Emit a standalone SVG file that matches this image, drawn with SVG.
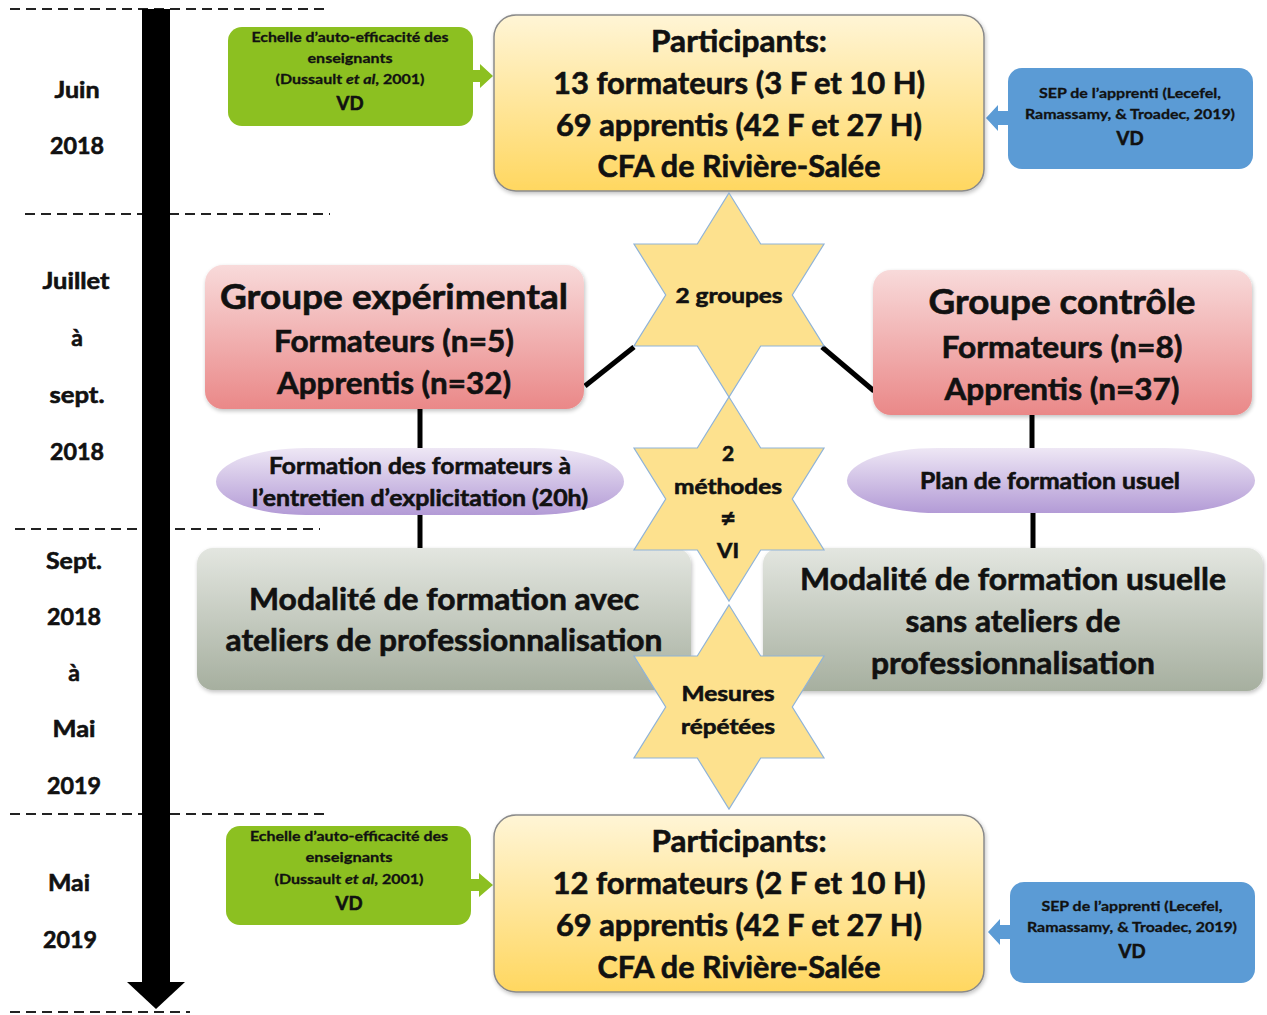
<svg xmlns="http://www.w3.org/2000/svg" width="1267" height="1015" viewBox="0 0 1267 1015">
  <defs>
    <linearGradient id="gYellow" x1="0" y1="0" x2="0" y2="1">
      <stop offset="0" stop-color="#fff5d6"/>
      <stop offset="1" stop-color="#ffd760"/>
    </linearGradient>
    <linearGradient id="gRed" x1="0" y1="0" x2="0" y2="1">
      <stop offset="0" stop-color="#f8dada"/>
      <stop offset="1" stop-color="#ea8888"/>
    </linearGradient>
    <linearGradient id="gGrey" x1="0" y1="0" x2="0" y2="1">
      <stop offset="0" stop-color="#e3e6e0"/>
      <stop offset="1" stop-color="#a6af9f"/>
    </linearGradient>
    <linearGradient id="gPurple" x1="0" y1="0" x2="0" y2="1">
      <stop offset="0" stop-color="#eee7f5"/>
      <stop offset="1" stop-color="#b39bd6"/>
    </linearGradient>
    <!-- six-pointed star, centred on the origin -->
    <path id="hexagram" d="M0,-102 L31.7,-51 L95,-51 L63.3,0 L95,51 L31.7,51 L0,102 L-31.7,51 L-95,51 L-63.3,0 L-95,-51 L-31.7,-51 Z"/>
    <filter id="soft" x="-5%" y="-5%" width="110%" height="115%">
      <feGaussianBlur in="SourceAlpha" stdDeviation="2"/>
      <feOffset dx="1" dy="2"/>
      <feComponentTransfer><feFuncA type="linear" slope="0.25"/></feComponentTransfer>
      <feMerge><feMergeNode/><feMergeNode in="SourceGraphic"/></feMerge>
    </filter>
  </defs>
  <style>
    text { font-family: Lato, "Open Sans", "Liberation Sans", sans-serif; font-weight: bold; fill: #111; stroke: #111; stroke-width: 0.6; text-anchor: middle; }
    .dash { stroke: #222; stroke-width: 2; stroke-dasharray: 10 6; fill: none; }
    .link { stroke: #000; stroke-width: 5; fill: none; }
    .green { fill: #8cc021; }
    .blue { fill: #5b9bd5; }
    .yellow { fill: url(#gYellow); stroke: #8a8a8a; stroke-width: 1.5; }
    .red { fill: url(#gRed); }
    .grey { fill: url(#gGrey); }
    .purple { fill: url(#gPurple); }
    .star { fill: #fde18e; stroke: #8fb3d8; stroke-width: 1.2; }
    .t14 { font-size: 14px; stroke-width: 0.3; }
    .t19 { font-size: 19px; }
    .t23 { font-size: 23px; }
    .t22 { font-size: 21px; }
    .t26 { font-size: 27px; }
    .t30 { font-size: 30px; }
    .t36 { font-size: 35px; }
  </style>

  <rect width="1267" height="1015" fill="#fff"/>

  <!-- timeline -->
  <g id="timeline">
    <line class="dash" x1="10" y1="9" x2="330" y2="9"/>
    <line class="dash" x1="25" y1="214" x2="330" y2="214"/>
    <line class="dash" x1="15" y1="529" x2="320" y2="529"/>
    <line class="dash" x1="10" y1="814" x2="325" y2="814"/>
    <line class="dash" x1="10" y1="1012" x2="190" y2="1012"/>
    <rect x="142" y="9" width="28" height="976" fill="#000"/>
    <polygon points="127,982 185,982 156,1009" fill="#000"/>
    <text class="t23" x="77" y="98" textLength="45" lengthAdjust="spacingAndGlyphs">Juin</text>
    <text class="t23" x="77" y="154" textLength="54" lengthAdjust="spacingAndGlyphs">2018</text>
    <text class="t23" x="76" y="289" textLength="67" lengthAdjust="spacingAndGlyphs">Juillet</text>
    <text class="t23" x="77" y="346">à</text>
    <text class="t23" x="77" y="403" textLength="55" lengthAdjust="spacingAndGlyphs">sept.</text>
    <text class="t23" x="77" y="460" textLength="54" lengthAdjust="spacingAndGlyphs">2018</text>
    <text class="t23" x="74" y="569" textLength="56" lengthAdjust="spacingAndGlyphs">Sept.</text>
    <text class="t23" x="74" y="625" textLength="54" lengthAdjust="spacingAndGlyphs">2018</text>
    <text class="t23" x="74" y="681">à</text>
    <text class="t23" x="74" y="737" textLength="43" lengthAdjust="spacingAndGlyphs">Mai</text>
    <text class="t23" x="74" y="794" textLength="54" lengthAdjust="spacingAndGlyphs">2019</text>
    <text class="t23" x="69" y="891" textLength="42" lengthAdjust="spacingAndGlyphs">Mai</text>
    <text class="t23" x="70" y="948" textLength="54" lengthAdjust="spacingAndGlyphs">2019</text>
  </g>

  <!-- connectors -->
  <g id="connectors">
    <line class="link" x1="585" y1="386" x2="634" y2="347"/>
    <line class="link" x1="822" y1="347" x2="874" y2="391"/>
    <line class="link" x1="420" y1="408" x2="420" y2="449"/>
    <line class="link" x1="420" y1="514" x2="420" y2="549"/>
    <line class="link" x1="1032" y1="414" x2="1032" y2="449"/>
    <line class="link" x1="1033" y1="512" x2="1033" y2="549"/>
    <!-- measurement arrows into the participant boxes -->
    <polygon class="green" points="472,70 480,70 480,64 493,76 480,88 480,82 472,82"/>
    <polygon class="blue" points="1009,111 998,111 998,105 986,118 998,131 998,125 1009,125"/>
    <polygon class="green" points="471,879 479,879 479,873 493,885 479,897 479,891 471,891"/>
    <polygon class="blue" points="1011,925 1000,925 1000,919 988,932 1000,945 1000,939 1011,939"/>
  </g>

  <!-- June 2018 -->
  <g id="scale-teachers-pre">
    <rect class="green" x="228" y="27" width="245" height="99" rx="14"/>
    <text class="t14" x="350" y="42" textLength="197" lengthAdjust="spacingAndGlyphs">Echelle d’auto-efficacité des</text>
    <text class="t14" x="350" y="63" textLength="85" lengthAdjust="spacingAndGlyphs">enseignants</text>
    <text class="t14" x="350" y="84" textLength="149" lengthAdjust="spacingAndGlyphs">(Dussault <tspan font-style="italic">et al</tspan>, 2001)</text>
    <text class="t19" x="350" y="110" textLength="27" lengthAdjust="spacingAndGlyphs">VD</text>
  </g>
  <g id="participants-pre">
    <rect class="yellow" x="494" y="15" width="490" height="176" rx="22" filter="url(#soft)"/>
    <text class="t30" x="739" y="52" textLength="176" lengthAdjust="spacingAndGlyphs">Participants:</text>
    <text class="t30" x="739" y="94" textLength="372" lengthAdjust="spacingAndGlyphs">13 formateurs (3 F et 10 H)</text>
    <text class="t30" x="739" y="136" textLength="366" lengthAdjust="spacingAndGlyphs">69 apprentis (42 F et 27 H)</text>
    <text class="t30" x="739" y="177" textLength="283" lengthAdjust="spacingAndGlyphs">CFA de Rivière-Salée</text>
  </g>
  <g id="scale-apprentices-pre">
    <rect class="blue" x="1008" y="68" width="245" height="101" rx="14"/>
    <text class="t14" x="1130" y="98" textLength="182" lengthAdjust="spacingAndGlyphs">SEP de l’apprenti (Lecefel,</text>
    <text class="t14" x="1130" y="119" textLength="210" lengthAdjust="spacingAndGlyphs">Ramassamy, &amp; Troadec, 2019)</text>
    <text class="t19" x="1130" y="145" textLength="27" lengthAdjust="spacingAndGlyphs">VD</text>
  </g>

  <!-- groups -->
  <g id="group-experimental">
    <rect class="red" x="205" y="265" width="379" height="144" rx="18" filter="url(#soft)"/>
    <text class="t36" x="394" y="309" textLength="348" lengthAdjust="spacingAndGlyphs">Groupe expérimental</text>
    <text class="t30" x="394" y="352" textLength="240" lengthAdjust="spacingAndGlyphs">Formateurs (n=5)</text>
    <text class="t30" x="394" y="394" textLength="234" lengthAdjust="spacingAndGlyphs">Apprentis (n=32)</text>
  </g>
  <g id="group-control">
    <rect class="red" x="873" y="270" width="379" height="145" rx="18" filter="url(#soft)"/>
    <text class="t36" x="1062" y="314" textLength="267" lengthAdjust="spacingAndGlyphs">Groupe contrôle</text>
    <text class="t30" x="1062" y="358" textLength="241" lengthAdjust="spacingAndGlyphs">Formateurs (n=8)</text>
    <text class="t30" x="1062" y="400" textLength="235" lengthAdjust="spacingAndGlyphs">Apprentis (n=37)</text>
  </g>

  <!-- trainer preparation -->
  <g id="training-experimental">
    <rect class="purple" x="216" y="448" width="408" height="67" rx="90" ry="33.5"/>
    <text class="t23" x="420" y="474" textLength="302" lengthAdjust="spacingAndGlyphs">Formation des formateurs à</text>
    <text class="t23" x="420" y="506" textLength="336" lengthAdjust="spacingAndGlyphs">l’entretien d’explicitation (20h)</text>
  </g>
  <g id="training-control">
    <rect class="purple" x="847" y="448" width="408" height="65" rx="90" ry="32.5"/>
    <text class="t23" x="1050" y="489" textLength="260" lengthAdjust="spacingAndGlyphs">Plan de formation usuel</text>
  </g>

  <!-- training modalities -->
  <g id="modality-experimental">
    <rect class="grey" x="197" y="548" width="494" height="142" rx="16" filter="url(#soft)"/>
    <text class="t30" x="444" y="610" textLength="390" lengthAdjust="spacingAndGlyphs">Modalité de formation avec</text>
    <text class="t30" x="444" y="651" textLength="437" lengthAdjust="spacingAndGlyphs">ateliers de professionnalisation</text>
  </g>
  <g id="modality-control">
    <rect class="grey" x="763" y="548" width="500" height="143" rx="16" filter="url(#soft)"/>
    <text class="t30" x="1013" y="590" textLength="426" lengthAdjust="spacingAndGlyphs">Modalité de formation usuelle</text>
    <text class="t30" x="1013" y="632" textLength="215" lengthAdjust="spacingAndGlyphs">sans ateliers de</text>
    <text class="t30" x="1013" y="674" textLength="284" lengthAdjust="spacingAndGlyphs">professionnalisation</text>
  </g>

  <!-- design stars -->
  <g id="star-groups">
    <use href="#hexagram" class="star" transform="translate(729,295)"/>
    <text class="t22" x="729" y="303" textLength="107" lengthAdjust="spacingAndGlyphs">2 groupes</text>
  </g>
  <g id="star-methods">
    <use href="#hexagram" class="star" transform="translate(729,499)"/>
    <text class="t22" x="728" y="461">2</text>
    <text class="t22" x="728" y="494" textLength="108" lengthAdjust="spacingAndGlyphs">méthodes</text>
    <text class="t26" x="728" y="527">≠</text>
    <text class="t22" x="728" y="558" textLength="22" lengthAdjust="spacingAndGlyphs">VI</text>
  </g>
  <g id="star-measures">
    <use href="#hexagram" class="star" transform="translate(729,707)"/>
    <text class="t22" x="728" y="701" textLength="93" lengthAdjust="spacingAndGlyphs">Mesures</text>
    <text class="t22" x="728" y="734" textLength="94" lengthAdjust="spacingAndGlyphs">répétées</text>
  </g>

  <!-- May 2019 -->
  <g id="scale-teachers-post">
    <rect class="green" x="226" y="826" width="245" height="99" rx="14"/>
    <text class="t14" x="349" y="841" textLength="198" lengthAdjust="spacingAndGlyphs">Echelle d’auto-efficacité des</text>
    <text class="t14" x="349" y="862" textLength="87" lengthAdjust="spacingAndGlyphs">enseignants</text>
    <text class="t14" x="349" y="884" textLength="149" lengthAdjust="spacingAndGlyphs">(Dussault <tspan font-style="italic">et al</tspan>, 2001)</text>
    <text class="t19" x="349" y="910" textLength="27" lengthAdjust="spacingAndGlyphs">VD</text>
  </g>
  <g id="participants-post">
    <rect class="yellow" x="494" y="815" width="490" height="177" rx="22" filter="url(#soft)"/>
    <text class="t30" x="739" y="852" textLength="175" lengthAdjust="spacingAndGlyphs">Participants:</text>
    <text class="t30" x="739" y="894" textLength="373" lengthAdjust="spacingAndGlyphs">12 formateurs (2 F et 10 H)</text>
    <text class="t30" x="739" y="936" textLength="366" lengthAdjust="spacingAndGlyphs">69 apprentis (42 F et 27 H)</text>
    <text class="t30" x="739" y="978" textLength="283" lengthAdjust="spacingAndGlyphs">CFA de Rivière-Salée</text>
  </g>
  <g id="scale-apprentices-post">
    <rect class="blue" x="1010" y="882" width="245" height="101" rx="14"/>
    <text class="t14" x="1132" y="911" textLength="181" lengthAdjust="spacingAndGlyphs">SEP de l’apprenti (Lecefel,</text>
    <text class="t14" x="1132" y="932" textLength="210" lengthAdjust="spacingAndGlyphs">Ramassamy, &amp; Troadec, 2019)</text>
    <text class="t19" x="1132" y="958" textLength="27" lengthAdjust="spacingAndGlyphs">VD</text>
  </g>
</svg>
